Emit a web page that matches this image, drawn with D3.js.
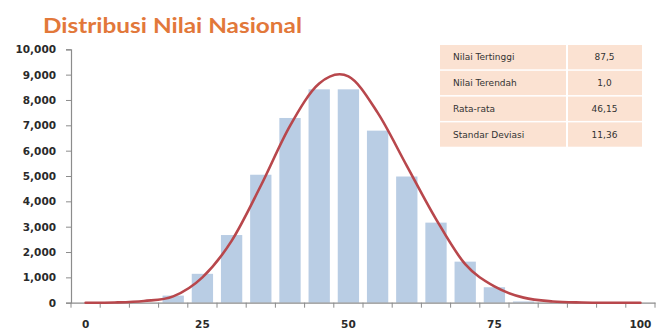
<!DOCTYPE html>
<html>
<head>
<meta charset="utf-8">
<script src="https://cdn.jsdelivr.net/npm/d3@7"></script>
<style>
  html, body { margin: 0; padding: 0; background: #ffffff; }
  svg { display: block; }
</style>
</head>
<body>
<div id="chart"></div>
<script>
// ---- data ----
const categories = ["c0","c1","c2","c3","c4","c5","c6","c7","c8","c9","c10","c11","c12","c13","c14","c15","c16","c17","c18","c19"];
const xTickLabels = ["0","","","","25","","","","","50","","","","","75","","","","","100"];
const barValues = [0, 0, 0, 280, 1140, 2670, 5050, 7290, 8420, 8420, 6790, 4980, 3160, 1620, 610, 50, 0, 0, 0, 0];
const curveValues = [0, 10, 70, 250, 1000, 2440, 4615, 6980, 8650, 8930, 7500, 5400, 3300, 1520, 640, 200, 50, 10, 0, 0];
const yTicks = [0, 1000, 2000, 3000, 4000, 5000, 6000, 7000, 8000, 9000, 10000];
const title = "Distribusi Nilai Nasional";
const tableLabels = ["Nilai Tertinggi", "Nilai Terendah", "Rata-rata", "Standar Deviasi"];
const tableValues = ["87,5", "1,0", "46,15", "11,36"];

// ---- layout ----
const W = 656, H = 334;
const x0 = 71, x1 = 655, yTop = 49.3, yBot = 302.7;

const svg = d3.select("#chart").append("svg").attr("width", W).attr("height", H);

const x = d3.scaleBand().domain(categories).range([x0, x1]).paddingInner(0.27).paddingOuter(0.135);
const y = d3.scaleLinear().domain([0, 10000]).range([yBot, yTop]);

// title
svg.append("text")
  .attr("x", 43).attr("y", 33)
  .attr("font-family", "Lato, 'Open Sans', sans-serif")
  .attr("font-weight", "bold")
  .attr("font-size", 21)
  .attr("fill", "#e2783a")
  .attr("textLength", 259)
  .attr("lengthAdjust", "spacingAndGlyphs")
  .text(title);

// bars
svg.append("g").selectAll("rect")
  .data(barValues)
  .join("rect")
  .attr("x", (d, i) => x(categories[i]))
  .attr("width", x.bandwidth())
  .attr("y", d => y(d))
  .attr("height", d => yBot - y(d))
  .attr("fill", "#b9cde4");

// y axis
const yAxis = svg.append("g")
  .attr("transform", `translate(${x0},0)`)
  .call(d3.axisLeft(y).tickValues(yTicks).tickFormat(d3.format(",")).tickSize(5).tickPadding(10));
yAxis.select(".domain").attr("stroke", "#8c8c8c").attr("stroke-width", 1.2);
yAxis.selectAll(".tick line").attr("stroke", "#8c8c8c");
yAxis.selectAll(".tick text")
  .attr("font-family", "'DejaVu Sans', Verdana, sans-serif")
  .attr("font-weight", "bold")
  .attr("font-size", 10.5)
  .attr("fill", "#2a2a2a");

// x axis
const xAxis = svg.append("g")
  .attr("transform", `translate(0,${yBot})`)
  .call(d3.axisBottom(x).tickSize(0).tickFormat((d, i) => xTickLabels[i]).tickPadding(18));
xAxis.select(".domain").attr("stroke", "#8c8c8c").attr("stroke-width", 1.2);
xAxis.selectAll(".tick text")
  .attr("font-family", "'DejaVu Sans', Verdana, sans-serif")
  .attr("font-weight", "bold")
  .attr("font-size", 10.5)
  .attr("fill", "#2a2a2a");
// category boundary ticks
const bounds = categories.map((c, i) => x0 + i * (x1 - x0) / categories.length);
bounds.push(x1);
svg.append("g").selectAll("line")
  .data(bounds)
  .join("line")
  .attr("x1", d => d).attr("x2", d => d)
  .attr("y1", yBot).attr("y2", yBot + 5)
  .attr("stroke", "#8c8c8c").attr("stroke-width", 1);

// normal curve
const line = d3.line()
  .x((d, i) => x(categories[i]) + x.bandwidth() / 2)
  .y(d => y(d))
  .curve(d3.curveCatmullRom.alpha(0));
svg.append("path")
  .attr("d", line(curveValues))
  .attr("fill", "none")
  .attr("stroke", "#b8474c")
  .attr("stroke-width", 2.6)
  .attr("stroke-linecap", "round");

// statistics table
const tx = 440, tw = 202, col = 127, ty = 45, rh = 25.8;
const tbl = svg.append("g");
tableLabels.forEach((lab, i) => {
  const yy = ty + i * rh;
  tbl.append("rect").attr("x", tx).attr("y", yy).attr("width", col - 1).attr("height", rh - 1.5).attr("fill", "#fbe2d2");
  tbl.append("rect").attr("x", tx + col + 1).attr("y", yy).attr("width", tw - col - 1).attr("height", rh - 1.5).attr("fill", "#fbe2d2");
  tbl.append("text").attr("x", tx + 13).attr("y", yy + rh / 2 + 2.5)
    .attr("font-family", "'DejaVu Sans', Verdana, sans-serif").attr("font-size", 9).attr("fill", "#333333")
    .text(lab);
  tbl.append("text").attr("x", tx + col + (tw - col) / 2).attr("y", yy + rh / 2 + 2.5)
    .attr("text-anchor", "middle")
    .attr("font-family", "'DejaVu Sans', Verdana, sans-serif").attr("font-size", 9).attr("fill", "#333333")
    .text(tableValues[i]);
});
</script>
</body>
</html>
